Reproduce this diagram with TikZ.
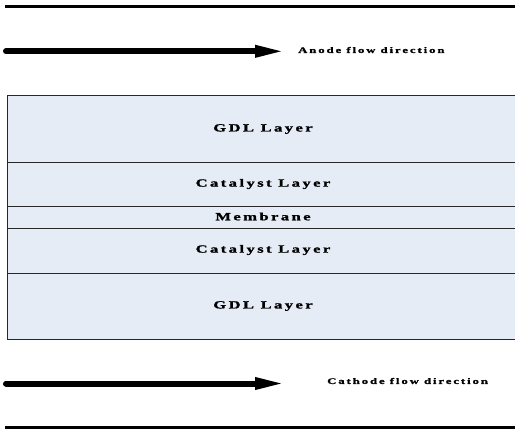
\documentclass[tikz,border=0pt]{standalone}
\usepackage{fontspec}
\setmainfont{Liberation Serif}
\newfontfamily\labelfont[LetterSpace=15,FakeBold=1.2,UprightFont=*-Bold,BoldFont=*-Bold]{Liberation Serif}
\usetikzlibrary{arrows.meta}
\definecolor{layerfill}{RGB}{230,236,246}
\definecolor{layeredge}{RGB}{40,40,40}
\newcommand{\widetext}[1]{\scalebox{1.5}[1]{#1}}
\tikzset{
  plate/.style={line width=2.6pt, black},
  flow/.style={line width=6pt, line cap=round, -{Triangle[length=31pt,width=11pt]}},
  flowlabel/.style={font=\labelfont\fontsize{8.5}{10}\selectfont, anchor=west, inner sep=0pt},
  layerlabel/.style={font=\labelfont\fontsize{11}{13}\selectfont, inner sep=0pt},
  layersep/.style={layeredge, line width=0.9pt}
}
\begin{document}
\begin{tikzpicture}[x=1pt,y=-1pt]
  \useasboundingbox (0,0) rectangle (515,429);

  % end plates
  \coordinate (topL) at (5,6.7);
  \coordinate (topR) at (515,6.7);
  \draw[plate] (topL) -- (topR);
  \coordinate (botL) at (5,427.3);
  \coordinate (botR) at (515,427.3);
  \draw[plate] (botL) -- (botR);

  % anode flow
  \coordinate (anodeS) at (6,51.3);
  \coordinate (anodeE) at (286,51.3);
  \draw[flow] (anodeS) -- (anodeE);
  \node[flowlabel] (anodeT) at (298,50) {\widetext{Anode flow direction}};

  % membrane electrode assembly stack
  \fill[layerfill] (7,95) rectangle (516,339);
  \draw[layersep] (516,95) -- (7,95) -- (7,339) -- (516,339);
  \draw[layersep] (7,162) -- (516,162);
  \draw[layersep] (7,206) -- (516,206);
  \draw[layersep] (7,228) -- (516,228);
  \draw[layersep] (7,273) -- (516,273);

  \node[layerlabel] (gdlA) at (263,129) {\widetext{GDL Layer}};
  \node[layerlabel] (catA) at (263,184) {\widetext{Catalyst Layer}};
  \node[layerlabel] (mem)  at (263,216.5) {\widetext{Membrane}};
  \node[layerlabel] (catC) at (263,250) {\widetext{Catalyst Layer}};
  \node[layerlabel] (gdlC) at (263,306) {\widetext{GDL Layer}};

  % cathode flow
  \coordinate (cathS) at (6,383.5);
  \coordinate (cathE) at (286,383.5);
  \draw[flow] (cathS) -- (cathE);
  \node[flowlabel] (cathT) at (327,381) {\widetext{Cathode flow direction}};
\end{tikzpicture}
\end{document}
